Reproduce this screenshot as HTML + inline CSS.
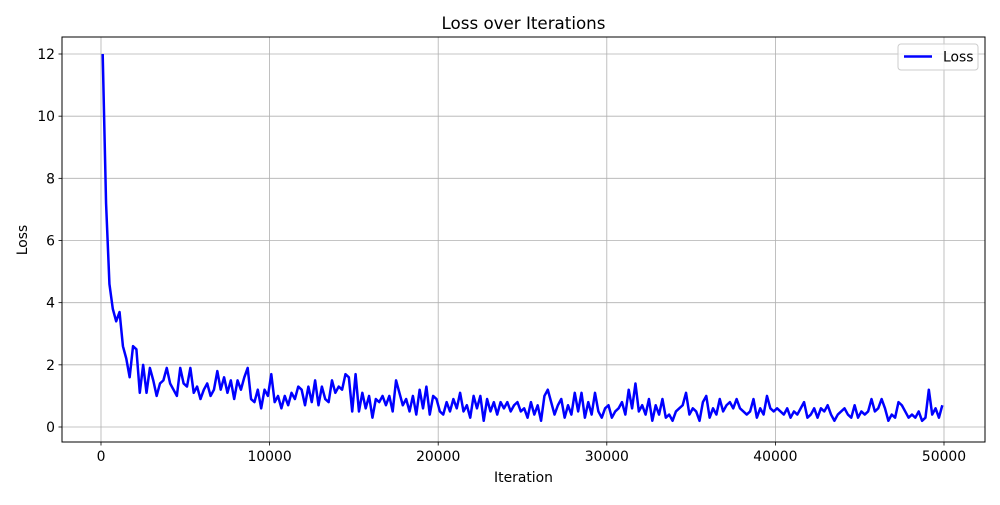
<!DOCTYPE html>
<html><head><meta charset="utf-8"><style>
body{margin:0;background:#fff;}
svg text{font-family:"DejaVu Sans","Liberation Sans",sans-serif;fill:#000;}
</style></head><body>
<svg id="chart" width="1000" height="500">
<rect x="0" y="0" width="1000" height="500" fill="#fff"/>
<text x="523.5" y="29" font-size="16.7" text-anchor="middle">Loss over Iterations</text>
<g id="grid"></g>
<g id="xticks"></g>
<g id="yticks"></g>
<path id="line" fill="none" stroke="#0000ff" stroke-width="2.5" stroke-linejoin="round"/>
<rect x="62" y="37" width="923" height="405" fill="none" stroke="#000" stroke-width="1"/>
<text x="523.5" y="482" font-size="13.9" text-anchor="middle">Iteration</text>
<text transform="translate(27,240) rotate(-90)" font-size="13.9" text-anchor="middle">Loss</text>
<g>
<rect x="898" y="44" width="80" height="26" rx="3" fill="#fff" fill-opacity="0.8" stroke="#ccc"/>
<line x1="904" y1="56.5" x2="932" y2="56.5" stroke="#0000ff" stroke-width="2.5"/>
<text x="943" y="61.5" font-size="13.9">Loss</text>
</g>
</svg>
<script>
const lossValues=[12,7.2,4.6,3.8,3.4,3.7,2.6,2.2,1.6,2.6,2.5,1.1,2.0,1.1,1.9,1.5,1.0,1.4,1.5,1.9,1.4,1.2,1.0,1.9,1.4,1.3,1.9,1.1,1.3,0.9,1.2,1.4,1.0,1.2,1.8,1.2,1.6,1.1,1.5,0.9,1.5,1.2,1.6,1.9,0.9,0.8,1.2,0.6,1.2,1.0,1.7,0.8,1.0,0.6,1.0,0.7,1.1,0.9,1.3,1.2,0.7,1.3,0.8,1.5,0.7,1.3,0.9,0.8,1.5,1.1,1.3,1.2,1.7,1.6,0.5,1.7,0.5,1.1,0.6,1.0,0.3,0.9,0.8,1.0,0.7,1.0,0.5,1.5,1.1,0.7,0.9,0.5,1.0,0.4,1.2,0.6,1.3,0.4,1.0,0.9,0.5,0.4,0.8,0.5,0.9,0.6,1.1,0.5,0.7,0.3,1.0,0.6,1.0,0.2,0.9,0.5,0.8,0.4,0.8,0.6,0.8,0.5,0.7,0.8,0.5,0.6,0.3,0.8,0.4,0.7,0.2,1.0,1.2,0.8,0.4,0.7,0.9,0.3,0.7,0.4,1.1,0.5,1.1,0.3,0.8,0.4,1.1,0.5,0.3,0.6,0.7,0.3,0.5,0.6,0.8,0.4,1.2,0.6,1.4,0.5,0.7,0.4,0.9,0.2,0.7,0.4,0.9,0.3,0.4,0.2,0.5,0.6,0.7,1.1,0.4,0.6,0.5,0.2,0.8,1.0,0.3,0.6,0.4,0.9,0.5,0.7,0.8,0.6,0.9,0.6,0.5,0.4,0.5,0.9,0.3,0.6,0.4,1.0,0.6,0.5,0.6,0.5,0.4,0.6,0.3,0.5,0.4,0.6,0.8,0.3,0.4,0.6,0.3,0.6,0.5,0.7,0.4,0.2,0.4,0.5,0.6,0.4,0.3,0.7,0.3,0.5,0.4,0.5,0.9,0.5,0.6,0.9,0.6,0.2,0.4,0.3,0.8,0.7,0.5,0.3,0.4,0.3,0.5,0.2,0.3,1.2,0.4,0.6,0.3,0.7];
const iterStart=100, iterStep=200;
const xTickValues=[0,10000,20000,30000,40000,50000];
const yTickValues=[0,2,4,6,8,10,12];
const xScale=v=>101+v*(944-101)/50000;
const yScale=v=>427-v*(427-54)/12;
const ns="http://www.w3.org/2000/svg";
const grid=document.getElementById('grid'),xt=document.getElementById('xticks'),yt=document.getElementById('yticks');
function mk(tag,attrs,parent){const e=document.createElementNS(ns,tag);for(const k in attrs)e.setAttribute(k,attrs[k]);parent.appendChild(e);return e;}
xTickValues.forEach(v=>{const x=xScale(v);
 const g=mk('line',{x1:x,x2:x,y1:37,y2:442,stroke:'#b0b0b0','stroke-width':0.8},grid);
 
 
 mk('line',{x1:x,x2:x,y1:442,y2:445.5,stroke:'#000','stroke-width':0.8},xt);
 const t=mk('text',{x:x,y:461,'font-size':13.9,'text-anchor':'middle'},xt);t.textContent=v;
 
 
});
yTickValues.forEach(v=>{const y=yScale(v);
 const g=mk('line',{x1:62,x2:985,y1:y,y2:y,stroke:'#b0b0b0','stroke-width':0.8},grid);
 
 
 mk('line',{x1:58.5,x2:62,y1:y,y2:y,stroke:'#000','stroke-width':0.8},yt);
 const t=mk('text',{x:55,y:y+5,'font-size':13.9,'text-anchor':'end'},yt);t.textContent=v;
 
 
});
document.getElementById('line').setAttribute('d',lossValues.map((v,i)=>(i?'L':'M')+xScale(iterStart+iterStep*i).toFixed(2)+','+yScale(v).toFixed(2)).join(''));
</script>
</body></html>
